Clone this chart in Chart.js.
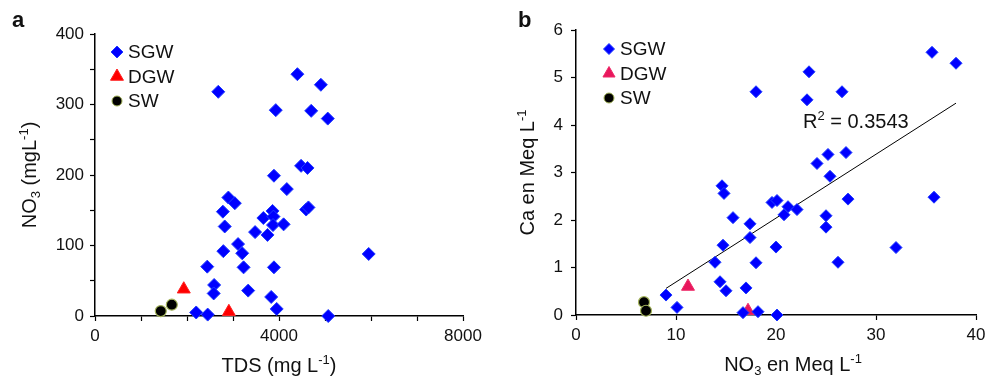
<!DOCTYPE html>
<html>
<head>
<meta charset="utf-8">
<script src="https://cdn.jsdelivr.net/npm/chart.js@4.4.0/dist/chart.umd.min.js"></script>
<style>
  body { margin: 0; background: #fff; }
  #wrap { position: relative; width: 1000px; height: 379px; }
  .box { position: absolute; top: 0; width: 500px; height: 379px; }
</style>
</head>
<body>
<div id="wrap">
  <div class="box" style="left:0"><canvas id="chartA" width="500" height="379"></canvas></div>
  <div class="box" style="left:500px"><canvas id="chartB" width="500" height="379"></canvas></div>
</div>
<script>
// ---- panel a : TDS vs NO3 ----
const sgwTds = [2680, 4400, 4910, 3930, 4700, 5060, 4480, 4620, 3890, 4170, 2900, 3040, 4590, 4640, 2780, 3860, 3660, 3880, 3870, 4100, 2820, 3480, 3750, 3110, 2790, 3200, 2440, 3230, 3890, 5950, 2590, 2580, 3330, 3830, 3950, 2200, 2450, 5070];
const sgwNo3 = [318, 343, 328, 292, 291, 280, 213, 210, 199, 180, 168, 160, 151, 154, 148, 149, 139, 141, 129, 130, 127, 119, 115, 102, 92, 89, 70, 69, 69, 88, 44, 32, 36, 27, 10, 5, 2, 0];
const dgwTds = [1930, 2910];
const dgwNo3 = [38, 6];
const swTds = [1430, 1670];
const swNo3 = [7, 16];

// ---- panel b : NO3 vs Ca (meq/L) ----
const sgwNo3Meq = [35.6, 38.0, 23.3, 26.6, 23.1, 18.0, 27.0, 25.2, 24.1, 25.4, 27.2, 35.8, 19.6, 20.1, 21.2, 22.1, 20.8, 25.0, 25.0, 20.0, 32.0, 26.2, 14.6, 14.8, 15.7, 17.4, 17.4, 14.7, 13.9, 18.0, 14.4, 15.0, 17.0, 9.0, 10.1, 16.7, 18.2, 20.1];
const sgwCa = [5.53, 5.30, 5.12, 4.70, 4.53, 4.70, 3.42, 3.38, 3.19, 2.92, 2.44, 2.48, 2.37, 2.41, 2.28, 2.22, 2.11, 2.09, 1.85, 1.43, 1.42, 1.11, 2.72, 2.56, 2.05, 1.92, 1.63, 1.47, 1.11, 1.10, 0.70, 0.51, 0.57, 0.42, 0.16, 0.05, 0.07, 0.0];
const dgwNo3Meq = [11.2, 17.2];
const dgwCa = [0.60, 0.09];
const swNo3Meq = [6.8, 7.0];
const swCa = [0.27, 0.09];
const trendX = [9.0, 38.0];
const trendY = [0.56, 4.46];
const r2Text = '0.3543';
const r2Pos = { x: 22.7, y: 3.94 };

const FONT = '"Liberation Sans", Arial, Helvetica, sans-serif';
const BLUE = '#0000ff';

function pts(xs, ys) {
  return xs.map((x, i) => ({ x: x, y: ys[i] }));
}

// text with sub/superscript parts: [text, 0 normal | -1 sub | 1 sup]
function drawRich(ctx, parts, x, y, size, align) {
  let w = 0;
  parts.forEach(p => {
    ctx.font = (p[1] ? size * 0.65 : size) + 'px ' + FONT;
    w += ctx.measureText(p[0]).width;
  });
  let cx = align === 'center' ? x - w / 2 : x;
  parts.forEach(p => {
    const s = p[1] ? size * 0.65 : size;
    ctx.font = s + 'px ' + FONT;
    const dy = p[1] === 1 ? -size * 0.38 : (p[1] === -1 ? size * 0.2 : 0);
    ctx.fillText(p[0], cx, y + dy);
    cx += ctx.measureText(p[0]).width;
  });
}

function marker(ctx, m, x, y) {
  ctx.beginPath();
  const r = m.r;
  if (m.style === 'rectRot') {
    ctx.moveTo(x - r, y); ctx.lineTo(x, y - r); ctx.lineTo(x + r, y); ctx.lineTo(x, y + r);
  } else if (m.style === 'triangle') {
    ctx.moveTo(x, y - r); ctx.lineTo(x + r * 0.866, y + r * 0.5); ctx.lineTo(x - r * 0.866, y + r * 0.5);
  } else {
    ctx.arc(x, y, r, 0, Math.PI * 2);
  }
  ctx.closePath();
  ctx.fillStyle = m.fill;
  ctx.fill();
  ctx.lineWidth = 1;
  ctx.strokeStyle = m.stroke;
  ctx.stroke();
}

function decor(cfg) {
  return {
    id: 'decor',
    afterDraw(chart) {
      const ctx = chart.ctx;
      const ca = chart.chartArea;
      ctx.save();
      ctx.fillStyle = '#111';
      ctx.textBaseline = 'alphabetic';
      ctx.font = 'bold 22px ' + FONT;
      ctx.textAlign = 'left';
      ctx.fillText(cfg.letter, cfg.letterX, 27);
      drawRich(ctx, cfg.xTitle, (ca.left + ca.right) / 2 + cfg.xShift, ca.bottom + 56, 20, 'center');
      ctx.save();
      ctx.translate(cfg.yTitleX, (ca.top + ca.bottom) / 2);
      ctx.rotate(-Math.PI / 2);
      drawRich(ctx, cfg.yTitle, 0, 0, 20, 'center');
      ctx.restore();
      // legend inside plot
      cfg.legend.forEach((item, i) => {
        const y = ca.top + cfg.legTop + i * 24.5;
        marker(ctx, item, ca.left + cfg.legX, y);
        ctx.fillStyle = '#111';
        ctx.font = '19px ' + FONT;
        ctx.textBaseline = 'middle';
        ctx.fillText(item.label, ca.left + cfg.legX + 11, y + 1);
      });
      if (cfg.r2) {
        ctx.fillStyle = '#111';
        ctx.textBaseline = 'alphabetic';
        const px = chart.scales.x.getPixelForValue(cfg.r2.x);
        const py = chart.scales.y.getPixelForValue(cfg.r2.y);
        drawRich(ctx, [['R', 0], ['2', 1], [' = ' + cfg.r2.text, 0]], px, py, 20, 'left');
      }
      ctx.restore();
    }
  };
}

function axis(min, max, step, size, fit, label, pad) {
  return {
    type: 'linear', min: min, max: max,
    ticks: {
      stepSize: step, autoSkip: false, maxRotation: 0, padding: pad,
      color: '#111', font: { family: FONT, size: 17 },
      callback: label
    },
    grid: { drawOnChartArea: false, drawTicks: true, tickLength: 5, color: '#000', tickWidth: 1.2 },
    border: { color: '#000', width: 1.5 },
    afterFit: fit
  };
}

const commonPlugins = { legend: { display: false }, tooltip: { enabled: false } };

new Chart(document.getElementById('chartA'), {
  type: 'scatter',
  data: {
    datasets: [
      { label: 'SGW', data: pts(sgwTds, sgwNo3), pointStyle: 'rectRot', pointRadius: 6.5,
        backgroundColor: BLUE, borderColor: '#1f3bff', borderWidth: 1, clip: false },
      { label: 'DGW', data: pts(dgwTds, dgwNo3), pointStyle: 'triangle', pointRadius: 7.5,
        backgroundColor: '#ff0000', borderColor: '#ff2020', borderWidth: 1, clip: false },
      { label: 'SW', data: pts(swTds, swNo3), pointStyle: 'circle', pointRadius: 5.5,
        backgroundColor: '#000', borderColor: '#a3b35a', borderWidth: 1.2, clip: false }
    ]
  },
  options: {
    responsive: false, animation: false, devicePixelRatio: 1,
    layout: { padding: { left: 0, top: 34, right: 37, bottom: 0 } },
    scales: {
      x: axis(0, 8000, 1000, 17, s => { s.height = 63; }, v => (v % 4000 === 0 ? String(v) : ''), 5),
      y: axis(0, 400, 50, 17, s => { s.width = 95; }, v => (v % 100 === 0 ? String(v) : ''), 6)
    },
    plugins: commonPlugins
  },
  plugins: [decor({
    letter: 'a', letterX: 12, xShift: 0, yTitleX: 36,
    xTitle: [['TDS (mg L', 0], ['-1', 1], [')', 0]],
    yTitle: [['NO', 0], ['3', -1], [' (mgL', 0], ['-1', 1], [')', 0]],
    legX: 22, legTop: 18,
    legend: [
      { label: 'SGW', style: 'rectRot', r: 6, fill: BLUE, stroke: '#1f3bff' },
      { label: 'DGW', style: 'triangle', r: 7.5, fill: '#ff0000', stroke: '#ff2020' },
      { label: 'SW', style: 'circle', r: 5, fill: '#000', stroke: '#a3b35a' }
    ]
  })]
});

new Chart(document.getElementById('chartB'), {
  type: 'scatter',
  data: {
    datasets: [
      { type: 'line', label: 'trend', data: pts(trendX, trendY), borderColor: '#000', borderWidth: 1,
        pointRadius: 0, fill: false, order: 5 },
      { label: 'SGW', data: pts(sgwNo3Meq, sgwCa), pointStyle: 'rectRot', pointRadius: 6,
        backgroundColor: BLUE, borderColor: '#1f3bff', borderWidth: 1, clip: false, order: 1 },
      { label: 'DGW', data: pts(dgwNo3Meq, dgwCa), pointStyle: 'triangle', pointRadius: 7.5,
        backgroundColor: '#e8175d', borderColor: '#ee2a68', borderWidth: 1, clip: false, order: 1 },
      { label: 'SW', data: pts(swNo3Meq, swCa), pointStyle: 'circle', pointRadius: 5.5,
        backgroundColor: '#000', borderColor: '#a3b35a', borderWidth: 1.2, clip: false, order: 1 }
    ]
  },
  options: {
    responsive: false, animation: false, devicePixelRatio: 1,
    layout: { padding: { left: 0, top: 30, right: 24, bottom: 0 } },
    scales: {
      x: axis(0, 40, 10, 17, s => { s.height = 64; }, v => String(v), 5),
      y: axis(0, 6, 1, 17, s => { s.width = 76; }, v => String(v), 8)
    },
    plugins: commonPlugins
  },
  plugins: [decor({
    letter: 'b', letterX: 18, xShift: 17, yTitleX: 34,
    xTitle: [['NO', 0], ['3', -1], [' en Meq L', 0], ['-1', 1]],
    yTitle: [['Ca en Meq L', 0], ['-1', 1]],
    legX: 33, legTop: 19,
    legend: [
      { label: 'SGW', style: 'rectRot', r: 5.5, fill: BLUE, stroke: '#1f3bff' },
      { label: 'DGW', style: 'triangle', r: 7, fill: '#e8175d', stroke: '#ee2a68' },
      { label: 'SW', style: 'circle', r: 5, fill: '#000', stroke: '#a3b35a' }
    ],
    r2: { x: r2Pos.x, y: r2Pos.y, text: r2Text }
  })]
});
</script>
</body>
</html>
